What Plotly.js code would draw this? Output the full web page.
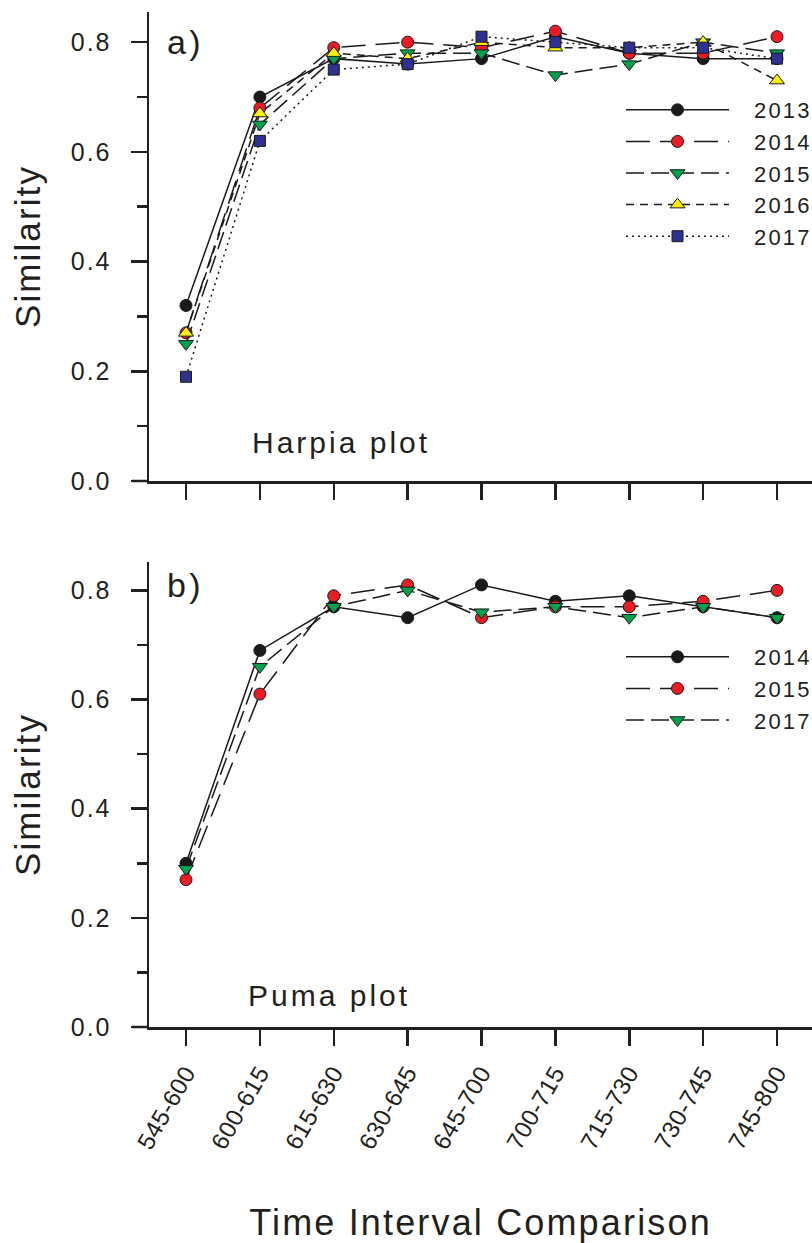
<!DOCTYPE html>
<html>
<head>
<meta charset="utf-8">
<script src="https://cdn.plot.ly/plotly-3.0.1.min.js"></script>
<style>
html,body{margin:0;padding:0;background:#fff;}
#chart{width:812px;height:1243px;}
g.ytick text, g.y2tick text{letter-spacing:0.08em;}
g.xtick text, g.x2tick text{letter-spacing:0.02em;}
text.xtitle, text.x2title, text.ytitle, text.y2title{letter-spacing:0.06em;}
text.annotation-text{letter-spacing:0.1em;}
/* the original key has long sample lines with the year placed further right */
text.legendtext, text.legend2text{letter-spacing:0.1em; transform:translateX(20px);}
g.scrollbox{clip-path:none !important;}
</style>
</head>
<body>
<div id="chart"></div>
<script>
// ---- data ----
const intervals = ['545-600','600-615','615-630','630-645','645-700','700-715','715-730','730-745','745-800'];

const harpiaYears = ['2013','2014','2015','2016','2017'];
const harpia2013 = [0.32,0.70,0.77,0.76,0.77,0.81,0.78,0.77,0.77];
const harpia2014 = [0.27,0.68,0.79,0.80,0.79,0.82,0.78,0.78,0.81];
const harpia2015 = [0.25,0.65,0.77,0.78,0.78,0.74,0.76,0.80,0.78];
const harpia2016 = [0.27,0.67,0.78,0.77,0.80,0.79,0.79,0.80,0.73];
const harpia2017 = [0.19,0.62,0.75,0.76,0.81,0.80,0.79,0.79,0.77];

const pumaYears = ['2014','2015','2017'];
const puma2014 = [0.30,0.69,0.77,0.75,0.81,0.78,0.79,0.77,0.75];
const puma2015 = [0.27,0.61,0.79,0.81,0.75,0.77,0.77,0.78,0.80];
const puma2017 = [0.29,0.66,0.77,0.80,0.76,0.77,0.75,0.77,0.75];

const panelLabels = ['a)','b)'];
const plotNames = ['Harpia plot','Puma plot'];
const yTitle = 'Similarity';
const xTitle = 'Time Interval Comparison';

// ---- styles ----
const INK = '#231f20';
const FONT = 'Liberation Sans, Arial, Helvetica, sans-serif';
const W = 812, H = 1243;
const ML = 149, MR = 0, MT = 12, MB = 216;
const PW = W - ML - MR, PH = H - MT - MB;
const px2x = p => (p - ML) / PW;
const px2y = p => (H - MB - p) / PH;

const styles = {
  black:  {color:'#1a1a1a', symbol:'circle', size:12},
  red:    {color:'#ed1c24', symbol:'circle', size:12},
  green:  {color:'#00a14b', symbol:'triangle-down', size:13},
  yellow: {color:'#fff200', symbol:'triangle-up', size:13},
  navy:   {color:'#2e3192', symbol:'square', size:11}
};
const dashes = {
  solid:'solid',
  longdash:'24px,10px',
  meddash:'18px,7px',
  shortdash:'8px,6px',
  dot:'2px,4px'
};

function mk(name, y, st, dash, xa, ya, leg){
  return {
    type:'scatter', mode:'lines+markers', name:name,
    x:intervals, y:y, xaxis:xa, yaxis:ya, legend:leg,
    line:{color:'#1a1a1a', width:1.5, dash:dash},
    marker:{color:st.color, symbol:st.symbol, size:st.size, line:{color:'#1a1a1a', width:1}},
    cliponaxis:false, hoverinfo:'skip'
  };
}

const traces = [
  mk(harpiaYears[0], harpia2013, styles.black,  dashes.solid,    'x','y','legend'),
  mk(harpiaYears[1], harpia2014, styles.red,    dashes.longdash, 'x','y','legend'),
  mk(harpiaYears[2], harpia2015, styles.green,  dashes.meddash,  'x','y','legend'),
  mk(harpiaYears[3], harpia2016, styles.yellow, dashes.shortdash,'x','y','legend'),
  mk(harpiaYears[4], harpia2017, styles.navy,   dashes.dot,      'x','y','legend'),
  mk(pumaYears[0], puma2014, styles.black, dashes.solid,    'x2','y2','legend2'),
  mk(pumaYears[1], puma2015, styles.red,   dashes.longdash, 'x2','y2','legend2'),
  mk(pumaYears[2], puma2017, styles.green, dashes.meddash,  'x2','y2','legend2')
];

const xr = [-(186 - ML) / 73.875, -(186 - ML) / 73.875 + PW / 73.875];

function xAxis(anchor, labels){
  const a = {
    anchor:anchor, domain:[0,1], type:'category', range:xr,
    showline:true, linewidth:2.5, linecolor:INK, mirror:false,
    ticks:'outside', ticklen:16, tickwidth:2.5, tickcolor:INK,
    showgrid:false, zeroline:false, fixedrange:true,
    showticklabels:labels, tickangle:-60, ticklabelstandoff:4,
    tickfont:{family:FONT, size:24, color:INK}
  };
  if(labels){ a.title = {text:xTitle, font:{family:FONT, size:36, color:INK}, standoff:80}; }
  return a;
}
function yAxis(anchor, domain, top){
  return {
    anchor:anchor, domain:domain, range:[0, top],
    tick0:0, dtick:0.2, tickformat:'.1f',
    showline:true, linewidth:2.5, linecolor:INK,
    ticks:'outside', ticklen:16, tickwidth:2.5, tickcolor:INK,
    minor:{dtick:0.1, ticks:'outside', ticklen:10, tickwidth:2.5, tickcolor:INK, showgrid:false},
    showgrid:false, zeroline:false, fixedrange:true, ticklabelstandoff:14,
    tickfont:{family:FONT, size:25, color:INK},
    title:{text:yTitle, font:{family:FONT, size:35, color:INK}, standoff:20}
  };
}

const legendBase = {
  x:px2x(621), xanchor:'left', yanchor:'top', itemwidth:103,
  font:{family:FONT, size:22, color:INK}, bgcolor:'rgba(0,0,0,0)', borderwidth:0,
  itemclick:false, itemdoubleclick:false
};

const layout = {
  width:W, height:H,
  margin:{l:ML, r:MR, t:MT, b:MB},
  paper_bgcolor:'#fff', plot_bgcolor:'#fff',
  font:{family:FONT, color:INK},
  showlegend:true,
  xaxis: xAxis('y', false),
  yaxis: yAxis('x', [px2y(481), 1], 0.855),
  xaxis2: xAxis('y2', true),
  yaxis2: yAxis('x2', [0, px2y(562)], 0.852),
  legend: Object.assign({}, legendBase, {y:px2y(89)}),
  legend2: Object.assign({}, legendBase, {y:px2y(636)}),
  shapes:[
    {type:'line', xref:'paper', yref:'y domain', x0:px2x(132), x1:0, y0:0, y1:0, line:{color:INK, width:2.5}},
    {type:'line', xref:'paper', yref:'y2 domain', x0:px2x(132), x1:0, y0:0, y1:0, line:{color:INK, width:2.5}}
  ],
  annotations:[
    {text:panelLabels[0], xref:'paper', yref:'paper', x:px2x(165), y:px2y(42.2), xanchor:'left', yanchor:'middle', showarrow:false, font:{family:FONT, size:34, color:INK}},
    {text:panelLabels[1], xref:'paper', yref:'paper', x:px2x(165), y:px2y(585.2), xanchor:'left', yanchor:'middle', showarrow:false, font:{family:FONT, size:34, color:INK}},
    {text:plotNames[0], xref:'paper', yref:'paper', x:px2x(250), y:px2y(442), xanchor:'left', yanchor:'middle', showarrow:false, font:{family:FONT, size:30, color:INK}},
    {text:plotNames[1], xref:'paper', yref:'paper', x:px2x(246), y:px2y(995), xanchor:'left', yanchor:'middle', showarrow:false, font:{family:FONT, size:30, color:INK}}
  ]
};

Plotly.newPlot('chart', traces, layout, {staticPlot:true, displayModeBar:false});
</script>
</body>
</html>
